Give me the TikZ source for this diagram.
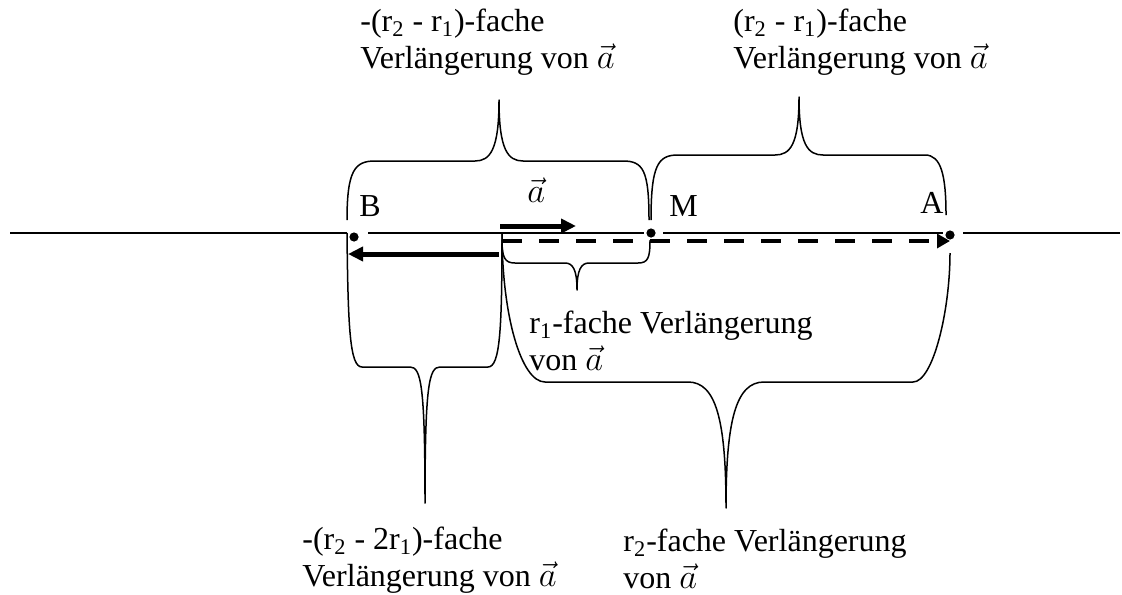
\documentclass[tikz,border=0pt]{standalone}
\usepackage{fontspec}
\setmainfont{Liberation Serif}
\usetikzlibrary{arrows.meta}
\tikzset{
  lbl/.style={anchor=base west,inner sep=0pt,align=left,font=\fontsize{16}{18.5}\selectfont},
  pt/.style={circle,fill=black,inner sep=0pt,minimum size=4.6pt},
  brace/.style={line width=0.75pt},
  axis/.style={line width=0.75pt},
  vecarrow/.style={line width=2.5pt,-{Triangle[length=7.5pt,width=7pt]}},
}
\newcommand{\va}{$\vec{a}$}

\begin{document}
\begin{tikzpicture}[x=0.5pt,y=-0.5pt,line join=round]
\useasboundingbox (0,0) rectangle (1122,594);

% points B, M, A
\node[pt] (B) at (354,237) {};
\node[pt] (M) at (651,233) {};
\node[pt] (A) at (950,235) {};
\node[lbl] (labB) at (359,216) {B};
\node[lbl] (labM) at (669,216) {M};
\node[lbl] (labA) at (920,213) {A};

% the line
\coordinate (L0) at (10,233);
\coordinate (L1) at (347,233);
\coordinate (L2) at (368,233);
\coordinate (L3) at (644,233);
\coordinate (L4) at (663,233);
\coordinate (L5) at (943,233);
\coordinate (L6) at (963,233);
\coordinate (L7) at (1120,233);
\draw[axis] (L0) -- (L1);
\draw[axis] (L2) -- (L3);
\draw[axis] (L4) -- (L5);
\draw[axis] (L6) -- (L7);

% vectors
\coordinate (a0) at (500,226);
\coordinate (a1) at (576,226);
\coordinate (b0) at (499,254);
\coordinate (b1) at (348,254);
\coordinate (c0) at (502,241);
\coordinate (c1) at (950,241);
\draw[vecarrow] (a0) -- (a1);
\draw[vecarrow] (b0) -- (b1);
\draw[line width=2.3pt,dash pattern=on 10pt off 8.5pt,
  -{Triangle[length=6.5pt,width=7pt]}] (c0) -- (c1);
\node[lbl] (laba) at (527,202) {\va};

% braces above
\draw[brace] (347,220) .. controls (347,170) and (355,161) .. (375,161) -- (475,161)
  .. controls (490,161) and (499,150) .. (499,100)
  .. controls (499,150) and (508,161) .. (523,161) -- (623,161)
  .. controls (643,161) and (649,170) .. (649,220);
\draw[brace] (651,220) .. controls (651,165) and (658,155) .. (678,155) -- (775,155)
  .. controls (790,155) and (799,145) .. (799,97)
  .. controls (799,145) and (808,155) .. (823,155) -- (925,155)
  .. controls (941,155) and (946,175) .. (946,215);

% braces below
\draw[brace] (502,240) .. controls (502,258) and (505,263) .. (515,263) -- (565,263)
  .. controls (573,263) and (577,270) .. (577,290)
  .. controls (577,270) and (581,263) .. (589,263) -- (638,263)
  .. controls (648,263) and (650,258) .. (650,240);
\draw[brace] (347,233) .. controls (348,330) and (350,367) .. (362,367) -- (410,367)
  .. controls (421,367) and (425,385) .. (425,503)
  .. controls (425,385) and (429,367) .. (440,367) -- (488,367)
  .. controls (500,367) and (502,330) .. (502,233);
\draw[brace] (502,233) .. controls (502,315) and (521,382) .. (545,382) -- (688,382)
  .. controls (716,382) and (726,420) .. (726,508)
  .. controls (726,420) and (736,382) .. (764,382) -- (913,382)
  .. controls (933,382) and (950,311) .. (950,253);

% texts (anchor is the baseline of the last line)
\node[lbl] (tl) at (360,68) {-(r\textsubscript{2} - r\textsubscript{1})-fache\\Verlängerung von \va};
\node[lbl] (tr) at (733,68) {(r\textsubscript{2} - r\textsubscript{1})-fache\\Verlängerung von \va};
\node[lbl] (mid) at (529,370) {r\textsubscript{1}-fache Verlängerung\\von \va};
\node[lbl] (bl) at (302,586) {-(r\textsubscript{2} - 2r\textsubscript{1})-fache\\Verlängerung von \va};
\node[lbl] (br) at (623,588) {r\textsubscript{2}-fache Verlängerung\\von \va};
\end{tikzpicture}
\end{document}
